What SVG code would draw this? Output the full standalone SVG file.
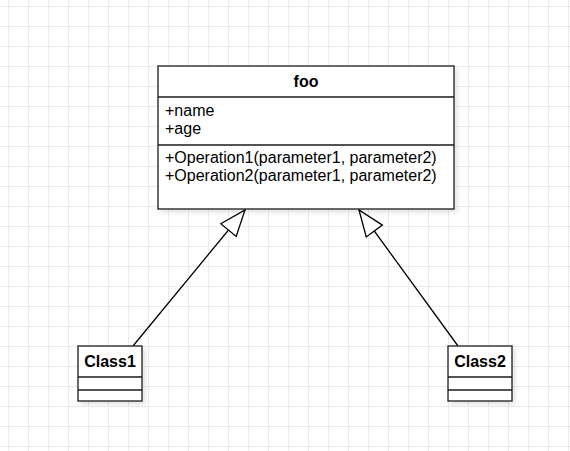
<svg xmlns="http://www.w3.org/2000/svg" width="570" height="451" viewBox="0 0 570 451">
  <style>
    .box { fill: #ffffff; stroke: #1a1a1a; stroke-width: 1.3; }
    .sep { stroke: #1a1a1a; stroke-width: 1.3; fill: none; }
    .txt { font-family: "Liberation Sans", Arial, sans-serif; font-size: 16px; fill: #000000; }
    .bold { font-weight: bold; }
    .edge { stroke: #000000; stroke-width: 1.3; fill: none; }
  </style>
  <defs>
    <pattern id="grid" patternUnits="userSpaceOnUse" x="0" y="0" width="20" height="20">
      <path d="M 8.5 0 V 20 M 0 6.5 H 20" stroke="#ebebeb" stroke-width="1" fill="none"/>
    </pattern>
    <filter id="shadow" x="-10%" y="-10%" width="130%" height="130%">
      <feDropShadow dx="3" dy="3" stdDeviation="2" flood-color="#000000" flood-opacity="0.1"/>
    </filter>
    <marker id="gen" markerUnits="userSpaceOnUse" markerWidth="30" markerHeight="24" viewBox="-2 -2 30 24" refX="26" refY="10" orient="auto">
      <path d="M 0 0 L 26 10 L 0 20 Z" fill="#ffffff" stroke="#000000" stroke-width="1.3" stroke-linejoin="miter"/>
    </marker>
  </defs>
  <rect x="0" y="0" width="570" height="451" fill="#ffffff"/>
  <rect x="0" y="0" width="570" height="451" fill="url(#grid)"/>

  <g id="connectors">
    <path class="edge" d="M 133 346 L 245 210" marker-end="url(#gen)"/>
    <path class="edge" d="M 458 346 L 359 210" marker-end="url(#gen)"/>
  </g>

  <g id="foo">
    <rect class="box" x="158" y="66" width="296" height="143" filter="url(#shadow)"/>
    <line class="sep" x1="158" y1="97" x2="454" y2="97"/>
    <line class="sep" x1="158" y1="145" x2="454" y2="145"/>
    <text class="txt bold" x="306" y="87" text-anchor="middle">foo</text>
    <text class="txt" x="165" y="116">+name</text>
    <text class="txt" x="165" y="134">+age</text>
    <text class="txt" x="165" y="163">+Operation1(parameter1, parameter2)</text>
    <text class="txt" x="165" y="181">+Operation2(parameter1, parameter2)</text>
  </g>

  <g id="class1">
    <rect class="box" x="78" y="346" width="64" height="55" filter="url(#shadow)"/>
    <line class="sep" x1="78" y1="377" x2="142" y2="377"/>
    <line class="sep" x1="78" y1="390" x2="142" y2="390"/>
    <text class="txt bold" x="110" y="367" text-anchor="middle">Class1</text>
  </g>

  <g id="class2">
    <rect class="box" x="448" y="346" width="64" height="55" filter="url(#shadow)"/>
    <line class="sep" x1="448" y1="377" x2="512" y2="377"/>
    <line class="sep" x1="448" y1="390" x2="512" y2="390"/>
    <text class="txt bold" x="480" y="367" text-anchor="middle">Class2</text>
  </g>
</svg>
